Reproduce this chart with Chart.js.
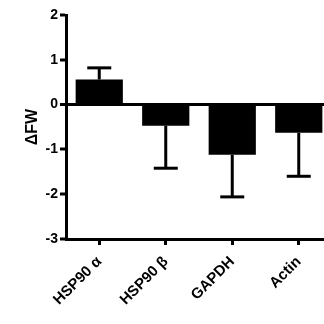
<!DOCTYPE html>
<html>
<head>
<meta charset="utf-8">
<script src="https://cdn.jsdelivr.net/npm/chart.js@4"></script>
<style>
html,body{margin:0;padding:0;background:#fff;overflow:hidden;width:324px;height:324px;}
#wrap{width:332px;height:324px;}
</style>
</head>
<body>
<div id="wrap"><canvas id="c" width="332" height="324"></canvas></div>
<script>
const categories = ['HSP90 \u03B1', 'HSP90 \u03B2', 'GAPDH', 'Actin'];
const values = [0.56, -0.47, -1.12, -0.63];
const errors = [0.26, 0.95, 0.94, 0.97];
const yTicks = [-3, -2, -1, 0, 1, 2];

const errorBars = {
  id: 'errorBars',
  afterDatasetsDraw(chart) {
    const ctx = chart.ctx;
    const meta = chart.getDatasetMeta(0);
    const ys = chart.scales.y;
    ctx.save();
    ctx.strokeStyle = '#000';
    ctx.lineWidth = 3;
    meta.data.forEach((el, i) => {
      const v = values[i];
      const end = v >= 0 ? v + errors[i] : v - errors[i];
      const y0 = ys.getPixelForValue(v);
      const y1 = ys.getPixelForValue(end);
      ctx.beginPath();
      ctx.moveTo(el.x, y0);
      ctx.lineTo(el.x, y1);
      ctx.stroke();
      ctx.beginPath();
      ctx.moveTo(el.x - 12, y1);
      ctx.lineTo(el.x + 12, y1);
      ctx.stroke();
    });
    ctx.restore();
  }
};

new Chart(document.getElementById('c'), {
  type: 'bar',
  data: {
    labels: categories,
    datasets: [{
      data: values,
      backgroundColor: '#000',
      borderWidth: 0,
      barPercentage: 0.71,
      categoryPercentage: 1.0
    }]
  },
  options: {
    responsive: false,
    animation: false,
    layout: { padding: { top: 15, right: 0, left: 0, bottom: 0 } },
    plugins: { legend: { display: false }, tooltip: { enabled: false } },
    scales: {
      x: {
        offset: true,
        afterFit(scale) { scale.height = 85; },
        grid: { drawOnChartArea: false, tickLength: 6, tickColor: '#000', tickWidth: 3, offset: false },
        border: { display: true, color: '#000', width: 3 },
        ticks: {
          color: '#000',
          font: { family: 'Liberation Sans, Arial', size: 15, weight: 'bold' },
          minRotation: 45, maxRotation: 45, padding: 8, autoSkip: false
        }
      },
      y: {
        min: -3, max: 2,
        afterBuildTicks(scale) { scale.ticks = yTicks.map(v => ({ value: v })); },
        afterFit(scale) { scale.width = 66; },
        grid: {
          drawOnChartArea: true,
          color: c => (c.tick && c.tick.value === 0 ? '#000' : 'rgba(0,0,0,0)'),
          lineWidth: c => (c.tick && c.tick.value === 0 ? 3 : 0),
          tickColor: '#000', tickWidth: 3, tickLength: 6
        },
        border: { display: true, color: '#000', width: 3 },
        ticks: {
          color: '#000',
          font: { family: 'Liberation Sans, Arial', size: 14, weight: 'bold' },
          padding: 2
        },
        title: {
          display: true, text: '\u0394FW', color: '#000',
          font: { family: 'Liberation Sans, Arial', size: 16, weight: 'bold' },
          padding: { top: 23, bottom: 0 }
        }
      }
    }
  },
  plugins: [errorBars]
});
</script>
</body>
</html>
